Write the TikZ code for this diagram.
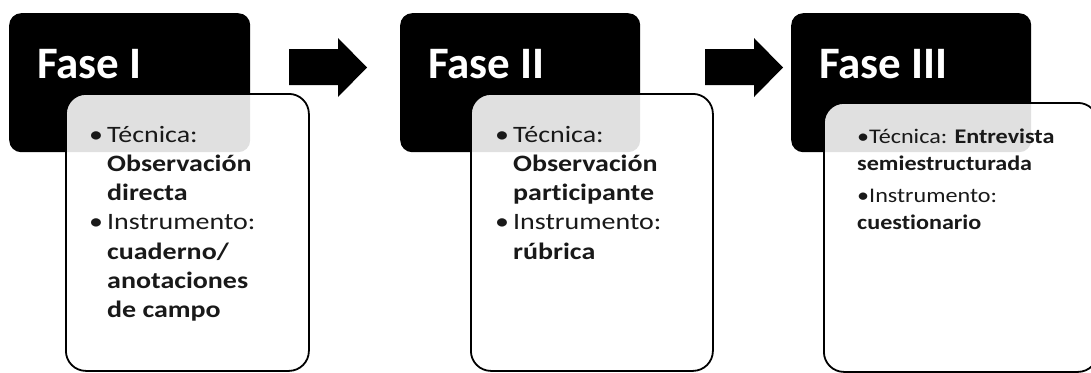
\documentclass[tikz,border=0pt]{standalone}
\usepackage{fontspec}
\setmainfont{Carlito}[Ligatures=NoCommon]
\newfontfamily\bodyfont{Carlito}[FakeStretch=1.19, Ligatures=NoCommon]
\newfontfamily\bodyfontB{Carlito}[FakeStretch=1.16, Ligatures=NoCommon]
\newcommand{\bul}{\makebox[18pt][l]{•}}
\begin{document}
\begin{tikzpicture}[x=1pt,y=-1pt,
  blackbox/.style={fill=black, rounded corners=12pt, anchor=north west, inner sep=0pt},
  whitebox/.style={draw=black, line width=1.8pt, fill=white, fill opacity=0.88, text opacity=1, rounded corners=20pt, anchor=north west, inner sep=0pt},
  heading/.style={anchor=base west, text=white, font=\bfseries\fontsize{45}{54}\selectfont, inner sep=0pt},
  bodyA/.style={anchor=base west, inner sep=0pt, text=black!90, font=\bodyfont\fontsize{23.5}{29.3}\selectfont},
  bodyB/.style={anchor=base west, inner sep=0pt, text=black!90, font=\bodyfontB\fontsize{20.8}{27}\selectfont},
  blockarrow/.style={fill=black}]
\useasboundingbox (0,0) rectangle (1091,372);
\clip (0,0) rectangle (1091,372);
% phase I
\node[blackbox, minimum width=241pt, minimum height=139pt] (b1) at (9,13) {};
\node[heading] (h1) at (37,78) {Fase I};
\node[whitebox, minimum width=243pt, minimum height=277pt] (w1) at (65,93) {};
\node[bodyA] (t1) at (89,142) {\begin{tabular}[t]{@{}l@{}l@{}}
\bul & Técnica:\\
 & \textbf{Observación}\\
 & \textbf{directa}\\
\bul & Instrumento:\\
 & \textbf{cuaderno/}\\
 & \textbf{anotaciones}\\
 & \textbf{de campo}
\end{tabular}};
% arrow 1
\fill[blockarrow] (289,49) -- (338,49) -- (338,38) -- (367,67.5) -- (338,97) -- (338,85) -- (289,85) -- cycle;
% phase II
\node[blackbox, minimum width=240pt, minimum height=139pt] (b2) at (400,13) {};
\node[heading] (h2) at (428,78) {Fase II};
\node[whitebox, minimum width=242pt, minimum height=277pt] (w2) at (470,93) {};
\node[bodyA] (t2) at (495,142) {\begin{tabular}[t]{@{}l@{}l@{}}
\bul & Técnica:\\
 & \textbf{Observación}\\
 & \textbf{participante}\\
\bul & Instrumento:\\
 & \textbf{rúbrica}
\end{tabular}};
% arrow 2
\fill[blockarrow, shift={(416,0)}] (289,49) -- (338,49) -- (338,38) -- (367,67.5) -- (338,97) -- (338,85) -- (289,85) -- cycle;
% phase III
\node[blackbox, minimum width=240pt, minimum height=139pt] (b3) at (791,13) {};
\node[heading] (h3) at (819,78) {Fase III};
\node[whitebox, minimum width=274pt, minimum height=269pt] (w3) at (823,102) {};
\node[bodyB] (t3) at (857,143) {\begin{tabular}[t]{@{}l@{}}
•Técnica: \textbf{Entrevista}\\
\textbf{semiestructurada}\\[5pt]
•Instrumento:\\
\textbf{cuestionario}
\end{tabular}};
\end{tikzpicture}
\end{document}
